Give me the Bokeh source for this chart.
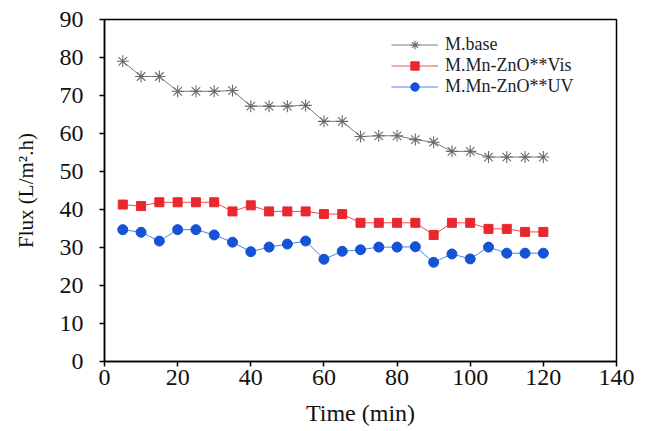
from bokeh.plotting import figure
from bokeh.models import FixedTicker, Range1d, Legend, LegendItem
from bokeh.embed import file_html
from bokeh.resources import INLINE

time_min = [5, 10, 15, 20, 25, 30, 35, 40, 45, 50, 55, 60, 65, 70, 75, 80, 85, 90, 95, 100, 105, 110, 115, 120]
m_base = [79.0, 75.0, 75.0, 71.1, 71.1, 71.1, 71.3, 67.2, 67.2, 67.2, 67.4, 63.2, 63.2, 59.2, 59.4, 59.4, 58.4, 57.7, 55.3, 55.3, 53.8, 53.8, 53.8, 53.8]
m_vis = [41.3, 40.9, 41.9, 41.9, 41.9, 41.9, 39.5, 41.1, 39.5, 39.5, 39.5, 38.8, 38.8, 36.5, 36.5, 36.5, 36.5, 33.3, 36.5, 36.5, 34.9, 34.9, 34.1, 34.1]
m_uv = [34.7, 34.0, 31.7, 34.7, 34.7, 33.3, 31.4, 28.9, 30.1, 30.9, 31.7, 26.9, 29.0, 29.4, 30.1, 30.1, 30.2, 26.1, 28.3, 27.0, 30.1, 28.5, 28.5, 28.5]
labels = ["M.base", "M.Mn-ZnO**Vis", "M.Mn-ZnO**UV"]
x_ticks = [0, 20, 40, 60, 80, 100, 120, 140]
y_ticks = [0, 10, 20, 30, 40, 50, 60, 70, 80, 90]

FONT = "Liberation Serif"

p = figure(width=651, height=431, output_backend="svg", toolbar_location=None,
           x_range=Range1d(0, 140), y_range=Range1d(0, 90),
           min_border_left=104, min_border_right=35, min_border_top=19, min_border_bottom=70)
p.xgrid.visible = False
p.ygrid.visible = False
p.outline_line_color = "black"
p.outline_line_width = 1.5
p.background_fill_color = "white"
p.border_fill_color = "white"

r1l = p.line(time_min, m_base, line_color="#7a7a7a", line_width=1)
r1m = p.scatter(time_min, m_base, marker="asterisk", size=12, line_color="#6a6a6a", line_width=1.1)
r2l = p.line(time_min, m_vis, line_color="#ef4a4a", line_width=1)
r2m = p.scatter(time_min, m_vis, marker="square", size=9, fill_color="#e8282e", line_color="#e8282e")
r3l = p.line(time_min, m_uv, line_color="#4a86e8", line_width=1)
r3m = p.scatter(time_min, m_uv, marker="circle", size=10, fill_color="#1452d6", line_color="#1452d6")

for ax in (p.xaxis[0], p.yaxis[0]):
    ax.axis_line_color = "black"
    ax.axis_line_width = 1.5
    ax.major_tick_line_color = "black"
    ax.major_tick_line_width = 1.5
    ax.major_tick_in = 0
    ax.major_tick_out = 5
    ax.minor_tick_line_color = None
    ax.major_label_text_font = FONT
    ax.major_label_text_font_size = "24px"
    ax.major_label_text_font_style = "normal"
    ax.major_label_text_color = "#111111"
    ax.axis_label_text_font = FONT
    ax.axis_label_text_font_style = "normal"
    ax.axis_label_text_color = "#111111"

p.xaxis[0].ticker = FixedTicker(ticks=x_ticks)
p.yaxis[0].ticker = FixedTicker(ticks=y_ticks)
p.xaxis[0].axis_label = "Time (min)"
p.xaxis[0].axis_label_text_font_size = "24px"
p.xaxis[0].major_label_standoff = 3
p.xaxis[0].axis_label_standoff = 12
p.yaxis[0].axis_label = "Flux (L/m\u00b2.h)"
p.yaxis[0].axis_label_text_font_size = "21px"
p.yaxis[0].major_label_standoff = 16
p.yaxis[0].axis_label_standoff = 19

legend = Legend(items=[
    LegendItem(label=labels[0], renderers=[r1l, r1m]),
    LegendItem(label=labels[1], renderers=[r2l, r2m]),
    LegendItem(label=labels[2], renderers=[r3l, r3m]),
], location=(287, 264))
legend.border_line_color = None
legend.background_fill_alpha = 0
legend.padding = 0
legend.margin = 0
legend.spacing = 0
legend.glyph_width = 47
legend.glyph_height = 21
legend.label_standoff = 7
legend.label_text_font = FONT
legend.label_text_font_size = "18px"
legend.label_text_color = "#222222"
legend.label_height = 21
p.add_layout(legend, "center")

open("out.html", "w").write(file_html(p, INLINE))
